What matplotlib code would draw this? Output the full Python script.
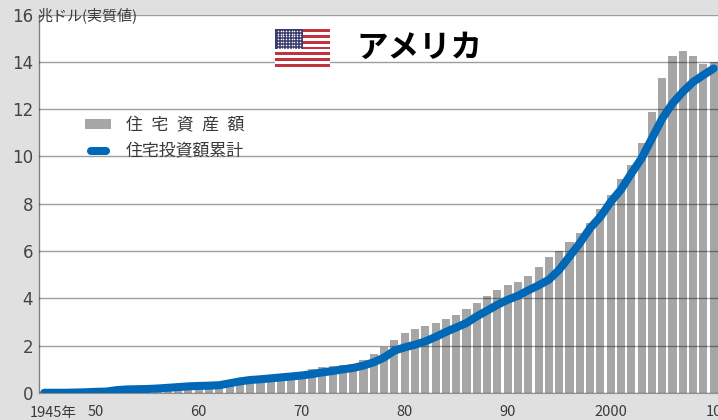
import numpy as np
import matplotlib
matplotlib.use("Agg")
import matplotlib.pyplot as plt
from matplotlib.legend_handler import HandlerLine2D
from matplotlib.lines import Line2D
from matplotlib.patches import Patch, Rectangle

plt.rcParams['font.family'] = ['Noto Sans CJK JP', 'DejaVu Sans']

years = list(range(1945, 2011))

# 住宅資産額 (bars)
assets = [0.01, 0.01, 0.01, 0.02, 0.02, 0.03, 0.04, 0.05, 0.07, 0.09, 0.15,
          0.17, 0.19, 0.22, 0.27, 0.30, 0.33, 0.38, 0.44, 0.52, 0.60,
          0.72, 0.75, 0.80, 0.85, 0.90, 1.00, 1.08, 1.15, 1.18, 1.22,
          1.40, 1.65, 1.95, 2.25, 2.53, 2.72, 2.85, 2.96, 3.14, 3.31,
          3.56, 3.82, 4.10, 4.37, 4.56, 4.68, 4.94, 5.34, 5.75, 6.01,
          6.38, 6.77, 7.20, 7.77, 8.35, 9.06, 9.65, 10.55, 11.87, 13.30,
          14.24, 14.46, 14.24, 13.92, 13.99]

# 住宅投資額累計 (line)
invest = [0.01, 0.01, 0.01, 0.02, 0.03, 0.05, 0.06, 0.12, 0.15, 0.16, 0.17,
          0.19, 0.22, 0.25, 0.28, 0.30, 0.31, 0.33, 0.41, 0.49, 0.55,
          0.58, 0.62, 0.66, 0.70, 0.74, 0.80, 0.87, 0.93, 1.00, 1.06,
          1.16, 1.30, 1.50, 1.79, 1.93, 2.04, 2.18, 2.37, 2.58, 2.77,
          2.96, 3.24, 3.48, 3.73, 3.94, 4.11, 4.34, 4.55, 4.79, 5.21,
          5.77, 6.34, 6.97, 7.45, 8.08, 8.60, 9.28, 9.92, 10.76, 11.60,
          12.24, 12.73, 13.15, 13.44, 13.72]

y_ticks = [0, 2, 4, 6, 8, 10, 12, 14, 16]
x_ticks = [1950, 1960, 1970, 1980, 1990, 2000, 2010]
x_labels = ['50', '60', '70', '80', '90', '2000', '10']

W, H = 718, 420
BG = '#e0e0e0'
TXT = '#3a3a3a'

fig = plt.figure(figsize=(W / 100, H / 100), dpi=100, facecolor=BG)
ax = fig.add_axes([38.5 / W, (H - 393) / H, (W - 38.5) / W, (393 - 14.5) / H])
ax.set_facecolor('white')

ax.bar(years, assets, width=0.78, color='#a6a6a6', zorder=2)
ax.plot(years, invest, color='#0068b7', lw=5.8, solid_capstyle='round',
        solid_joinstyle='round', zorder=4)

ax.set_xlim(1944.445, 2010.417)
ax.set_ylim(0, 16)
ax.set_yticks(y_ticks)
ax.set_xticks(x_ticks)
ax.set_xticklabels(x_labels, fontsize=10.5, color=TXT)
ax.tick_params(axis='y', length=0, pad=4, labelsize=12, labelcolor='#444444',
               labelfontfamily='DejaVu Sans')
ax.tick_params(axis='x', length=0, pad=9)
ax.grid(axis='y', color='black', alpha=0.38, lw=1, zorder=3)
ax.set_axisbelow(False)
for s in ['top', 'right']:
    ax.spines[s].set_visible(False)
ax.spines['left'].set_color('#808080')
ax.spines['bottom'].set_color('#909090')
ax.spines['left'].set_linewidth(1)
ax.spines['bottom'].set_linewidth(0.8)

ax.annotate('1945年', xy=(1945, 0), xycoords='data', xytext=(6.5, -9),
            textcoords='offset points', ha='center', va='top',
            fontsize=10.5, color=TXT, annotation_clip=False)

fig.text(37 / W, 1 - 15 / H, '兆ドル(実質値)', fontsize=10.8, color=TXT,
         ha='left', va='center', zorder=5)
fig.text(419 / W, 1 - 48 / H, 'アメリカ', fontsize=22.7, fontweight='bold',
         color='black', ha='center', va='center')

line_handle = Line2D([0], [0], color='#0068b7', lw=5.8, solid_capstyle='round')
handles = [Patch(facecolor='#a6a6a6', edgecolor='none'), line_handle]
labels = ['住\u2002宅\u2002資\u2002産\u2002額', '住宅投資額累計']
ax.legend(handles, labels, frameon=False, fontsize=12.2, labelcolor=TXT,
          loc='upper left', bbox_to_anchor=((85 - 38.5) / 679.5, 1 - 101.5 / 378.5),
          borderaxespad=0, borderpad=0, handlelength=1.55, handleheight=0.6,
          handletextpad=0.85, labelspacing=0.5,
          handler_map={line_handle: HandlerLine2D(marker_pad=0.33, numpoints=2)})

# flag
fl = fig.add_axes([275 / W, 1 - 67 / H, 55 / W, 38 / H])
fl.set_xlim(0, 1)
fl.set_ylim(0, 13)
fl.axis('off')
fl.add_patch(Rectangle((0, 0), 1, 13, color='white'))
for i in range(0, 13, 2):
    fl.add_patch(Rectangle((0, i), 1, 1, color='#c0343c', lw=0))
fl.add_patch(Rectangle((0, 6), 0.5, 7, color='#3c3b6e', lw=0, zorder=2))
sx, sy = np.meshgrid(np.linspace(0.05, 0.45, 9), np.linspace(6.6, 12.4, 7))
fl.scatter(sx.ravel(), sy.ravel(), s=1.3, color='white', lw=0, zorder=3)

fig.savefig('out.png', dpi=100, facecolor=BG)
